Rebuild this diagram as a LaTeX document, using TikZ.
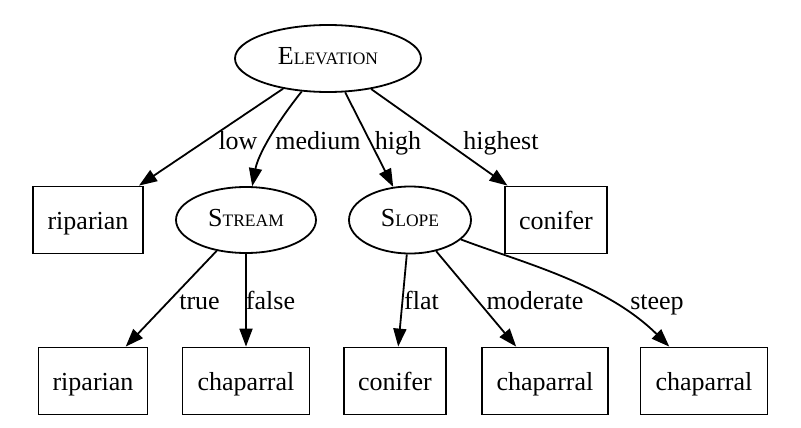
\documentclass[tikz,border=0pt]{standalone}
\usepackage{fontspec}
\setmainfont{Liberation Serif}
\usetikzlibrary{shapes.geometric,arrows.meta}
\tikzset{>={Triangle[length=18pt,width=13pt]}}
\tikzset{
  attr/.style={draw,ellipse,line width=1.8pt,inner sep=0pt,text height=13pt,text depth=0pt,font=\fontsize{26}{30}\selectfont},
  leaf/.style={draw,rectangle,line width=1.8pt,inner sep=0pt,minimum height=67pt,text height=18pt,text depth=0pt,font=\fontsize{26}{30}\selectfont},
  lbl/.style={anchor=base,inner sep=0pt,font=\fontsize{26}{30}\selectfont},
  edge/.style={->,line width=1.8pt}
}
\newcommand{\attrname}[2]{#1{\fontsize{17.5}{20}\selectfont #2}}

\begin{document}
\begin{tikzpicture}[x=1pt,y=-1pt]
\useasboundingbox (0,0) rectangle (801,428);
% attributes
\node[attr,minimum width=186pt,minimum height=67pt] (elevation) at (328,58.5) {\attrname{E}{LEVATION}};
\node[attr,minimum width=140pt,minimum height=66pt] (stream) at (246,220) {\attrname{S}{TREAM}};
\node[attr,minimum width=122pt,minimum height=67pt] (slope) at (410,220) {\attrname{S}{LOPE}};
% leaves
\node[leaf,minimum width=110pt] (riparianA) at (88,220) {riparian};
\node[leaf,minimum width=102pt] (coniferA) at (556,220) {conifer};
\node[leaf,minimum width=109pt] (riparianB) at (93,381) {riparian};
\node[leaf,minimum width=127pt] (chaparralA) at (246,381) {chaparral};
\node[leaf,minimum width=102pt] (coniferB) at (395,381) {conifer};
\node[leaf,minimum width=126pt] (chaparralB) at (545,381) {chaparral};
\node[leaf,minimum width=127pt] (chaparralC) at (704,381) {chaparral};
% edges
\draw[edge] (elevation) -- (riparianA);
\draw[edge] (elevation) .. controls (275,125) and (258,155) .. (stream);
\draw[edge] (elevation) -- (slope);
\draw[edge] (elevation) -- (coniferA);
\draw[edge] (stream) -- (riparianB);
\draw[edge] (stream) -- (chaparralA);
\draw[edge] (slope) -- (coniferB);
\draw[edge] (slope) -- (chaparralB);
\draw[edge] (slope) .. controls (520,262) and (605,283) .. (chaparralC);
% edge labels
\node[lbl] (low) at (238,149) {low};
\node[lbl] (medium) at (318,149) {medium};
\node[lbl] (high) at (398,149) {high};
\node[lbl] (highest) at (501,149) {highest};
\node[lbl] (true) at (199.5,309) {true};
\node[lbl] (false) at (270.5,309) {false};
\node[lbl] (flat) at (421.5,309) {flat};
\node[lbl] (moderate) at (535,309) {moderate};
\node[lbl] (steep) at (657,309) {steep};
\end{tikzpicture}
\end{document}
